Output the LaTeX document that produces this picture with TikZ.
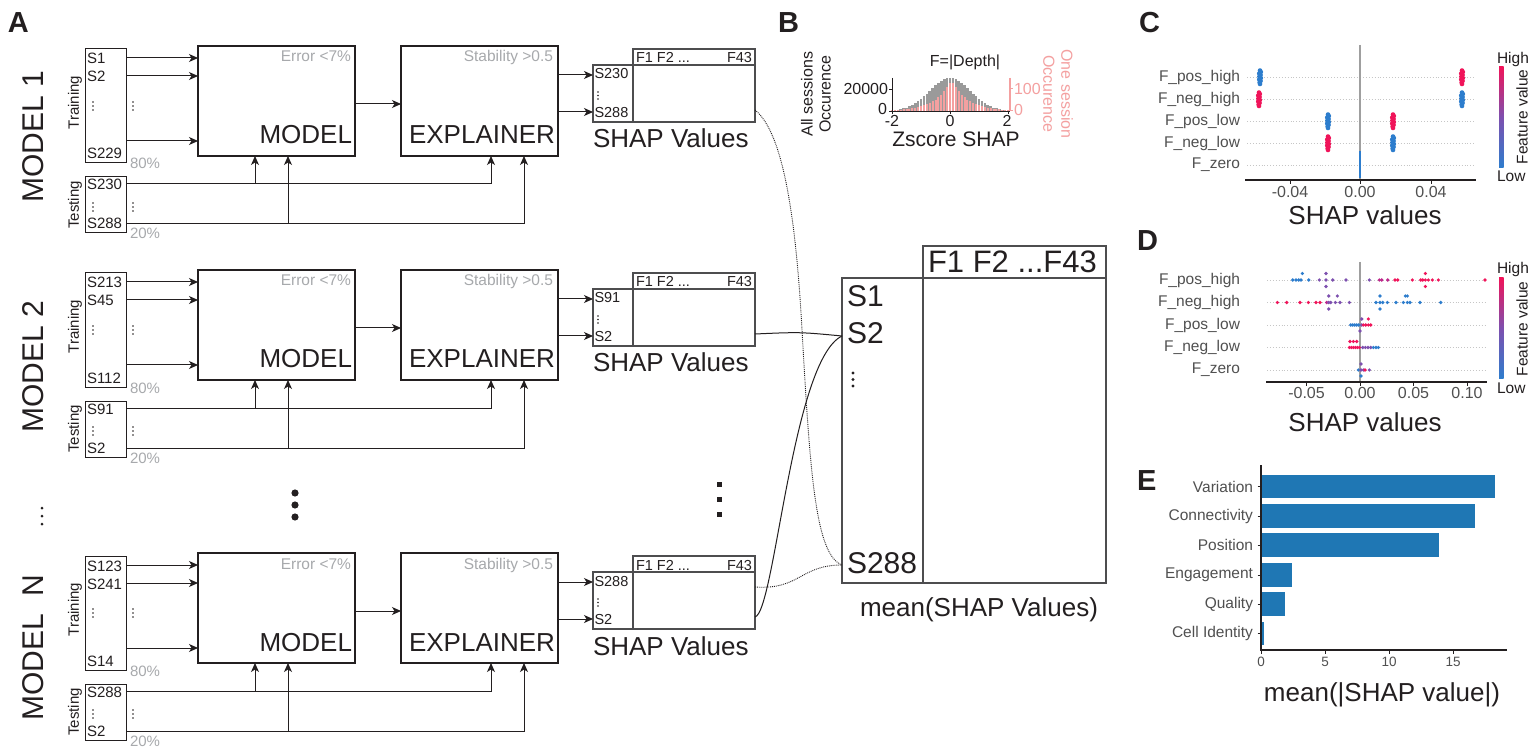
\documentclass[tikz,border=0pt]{standalone}
\usepackage{fontspec}
\setmainfont{Liberation Sans}
\usetikzlibrary{arrows.meta}
\definecolor{ink}{HTML}{231F20}
\definecolor{lgray}{HTML}{A7A9AC}
\definecolor{tgray}{HTML}{505050}
\definecolor{tblgray}{HTML}{4D4D4F}
\definecolor{db}{RGB}{45,125,205}
\definecolor{dk}{RGB}{240,20,90}
\definecolor{dp}{RGB}{125,80,175}
\definecolor{dm}{RGB}{190,40,140}
\definecolor{histgray}{HTML}{9A9A9A}
\definecolor{histpink}{HTML}{F4A0A0}
\definecolor{barblue}{HTML}{1F77B4}
\newcommand{\fsz}[1]{\fontsize{#1pt}{#1pt}\selectfont}
\newcommand{\swarmC}[3]{%
  \foreach \dy/\dx in {-6.5/0,-5/0.8,-3.5/-0.8,-2/0.6,-0.5/-0.6,1/0.8,2.5/-0.8,4/0.6,5.5/-0.4,7/0}{\fill[#3] (#1+\dx,#2+\dy) circle[radius=2.3pt];}}
\newcommand{\modelrow}[7]{%
\begin{scope}[shift={(0,#1)}]
\node[thinbox, minimum width=41pt, minimum height=114pt, anchor=north west] (#2-train) at (85,3) {};
\node[thinbox, minimum width=41pt, minimum height=56pt, anchor=north west] (#2-test) at (85,131) {};
\node[thickbox, minimum width=157pt, minimum height=110pt, anchor=north west] (#2-model) at (198,0) {};
\node[thickbox, minimum width=157pt, minimum height=110pt, anchor=north west] (#2-expl) at (401,0) {};
\node[tblbox, minimum width=40pt, minimum height=57pt, anchor=north west] (#2-rows) at (593,19) {};
\node[tblbox, minimum width=122pt, minimum height=16pt, anchor=north west] (#2-head) at (633,3) {};
\node[tblbox, minimum width=122pt, minimum height=57pt, anchor=north west] (#2-vals) at (633,19) {};
\node[txt, font=\fsz{15}, anchor=base west] (#2-t1) at (87,18) {#3};
\node[txt, font=\fsz{15}, anchor=base west] (#2-t2) at (87,36) {#4};
\node[txt, font=\fsz{15}, anchor=base west] (#2-t3) at (87,113) {#5};
\node[gtxt, font=\fsz{15}, anchor=base west] (#2-p80) at (130,123) {80\%};
\node[txt, font=\fsz{15}, rotate=90] (#2-trl) at (75,56.5) {Training};
\node[txt, font=\fsz{15}, anchor=base west] (#2-e1) at (87,144) {#6};
\node[txt, font=\fsz{15}, anchor=base west] (#2-e2) at (87,183) {#7};
\node[gtxt, font=\fsz{15}, anchor=base west] (#2-p20) at (130,193) {20\%};
\node[txt, font=\fsz{15}, rotate=90] (#2-tel) at (75,159) {Testing};
\node[gtxt, font=\fsz{15.5}, anchor=base east] (#2-err) at (351,16) {Error <7\%};
\node[txt, font=\fsz{26}, anchor=base east] (#2-mt) at (352,98) {MODEL};
\node[gtxt, font=\fsz{15.5}, anchor=base east] (#2-stab) at (553,16) {Stability >0.5};
\node[txt, font=\fsz{26}, anchor=base east] (#2-et) at (555,98) {EXPLAINER};
\node[txt, font=\fsz{14.5}, anchor=base west] (#2-s1) at (594.5,33) {#6};
\node[txt, font=\fsz{14.5}, anchor=base west] (#2-s2) at (594.5,71.5) {#7};
\node[txt, font=\fsz{14.5}, anchor=base west] (#2-h1) at (636,17) {F1 F2 ...};
\node[txt, font=\fsz{14.5}, anchor=base east] (#2-h2) at (752,17) {F43};
\node[txt, font=\fsz{26}, anchor=base west] (#2-sv) at (593,102) {SHAP Values};
\foreach \xx in {93,133} {\foreach \yy in {56,60,64,157,161,165} {\fill[ink] (\xx,\yy) circle[radius=0.9pt];}}
\foreach \yy in {46,49.5,53} {\fill[ink] (598,\yy) circle[radius=0.8pt];}
\foreach \yy in {12,30,95} {\draw[arr] (#2-train.east |- 0,\yy) -- (#2-model.west |- 0,\yy);}
\draw[arr] (#2-model.east |- 0,58) -- (#2-expl.west |- 0,58);
\coordinate (#2-j1) at (255,138);
\coordinate (#2-j2) at (288,178);
\draw[arr] (#2-test.east |- 0,138) -| (#2-expl.south -| 491,0);
\draw[arr] (#2-test.east |- 0,178) -| (#2-expl.south -| 524,0);
\draw[arr] (#2-j1) -- (#2-model.south -| #2-j1);
\draw[arr] (#2-j2) -- (#2-model.south -| #2-j2);
\draw[arr] (#2-expl.east |- 0,29) -- (#2-rows.west |- 0,29);
\draw[arr] (#2-expl.east |- 0,66) -- (#2-rows.west |- 0,66);
\coordinate (#2-o1) at (#2-vals.east |- 0,34);
\coordinate (#2-o2) at (#2-vals.east |- 0,64);
\end{scope}}
\begin{document}
\begin{tikzpicture}[x=1pt,y=-1pt,
  txt/.style={inner sep=0pt, outer sep=0pt, text=ink},
  gtxt/.style={inner sep=0pt, outer sep=0pt, text=lgray},
  ltxt/.style={inner sep=0pt, outer sep=0pt, text=tgray},
  thickbox/.style={draw=ink, line width=2.8pt, inner sep=0pt, outer sep=0pt},
  thinbox/.style={draw=ink, line width=1pt, inner sep=0pt, outer sep=0pt},
  tblbox/.style={draw=tblgray, line width=1.1pt, inner sep=0pt, outer sep=0pt},
  arr/.style={draw=ink, line width=1pt, -{Stealth[length=9pt,width=8pt,inset=2.5pt]}},
  link/.style={draw=ink, line width=1pt},
  dlink/.style={draw=ink, line width=0.9pt, densely dotted},
  rowdot/.style={draw=gray!45, line width=0.9pt, dotted},
]
\useasboundingbox[fill=white] (0,0) rectangle (1532,751);

% ---------------- panel A
\node[txt, font=\fsz{29}\bfseries, anchor=base west] (pA) at (8,33) {A};
\modelrow{46}{m1}{S1}{S2}{S229}{S230}{S288}
\modelrow{270}{m2}{S213}{S45}{S112}{S91}{S2}
\modelrow{553}{mN}{S123}{S241}{S14}{S288}{S2}
\node[txt, font=\fsz{30}, rotate=90] (lab1) at (33.5,137) {MODEL 1};
\node[txt, font=\fsz{30}, rotate=90] (lab2) at (33.5,367) {MODEL 2};
\node[txt, font=\fsz{30}, rotate=90] (labN) at (33.5,648) {MODEL\hspace{0.3em} N};
\foreach \yy in {508,516,524} {\fill[ink] (42,\yy) circle[radius=1.5pt];}
\foreach \yy in {493,505,517} {\fill[ink] (295,\yy) circle[radius=3.6pt];}
\foreach \yy in {484,499,514} {\fill[ink] (716.5,\yy-2.5) rectangle (721.5,\yy+2.5);}

% ---------------- big table
\node[tblbox, minimum width=183pt, minimum height=32pt, anchor=north west] (bhead) at (923,246) {};
\node[tblbox, minimum width=81pt, minimum height=305pt, anchor=north west] (bcol) at (842,278) {};
\node[tblbox, minimum width=183pt, minimum height=305pt, anchor=north west] (bvals) at (923,278) {};
\node[txt, font=\fsz{31}, anchor=base west] (bF) at (928,273) {F1 F2 ...F43};
\node[txt, font=\fsz{30}, anchor=base west] (bS1) at (847,306.5) {S1};
\node[txt, font=\fsz{30}, anchor=base west] (bS2) at (847,344) {S2};
\node[txt, font=\fsz{30}, anchor=base west] (bS288) at (847,573) {S288};
\foreach \yy in {373,379.5,386} {\fill[ink] (853,\yy) circle[radius=1.6pt];}
\node[txt, font=\fsz{26}, anchor=base west] (bmean) at (860,616.7) {mean(SHAP Values)};
\coordinate (in2) at (bcol.west |- 0,336);
\coordinate (in288) at (bcol.west |- 0,565);
\coordinate (mid1) at (802,330);
\draw[dlink] (m1-o2) .. controls (780,130) and (795,200) .. (mid1) .. controls (810,470) and (815,555) .. (in288);
\draw[link] (m2-o2) .. controls (800,332) .. (in2);
\draw[link] (mN-o2) .. controls (775,612) and (792,360) .. (in2);
\draw[dlink] (mN-o1) .. controls (800,590) and (800,565) .. (in288);

% ---------------- panel B histogram
\node[txt, font=\fsz{29}\bfseries, anchor=base west] (pB) at (778,33) {B};
\foreach \i in {-20,...,20} {
  \pgfmathsetmacro\xc{950+\i*2.9}
  \pgfmathsetmacro\hg{33*exp(-((\i/10)*(\i/10))/(2*0.5))}
  \pgfmathsetmacro\hp{31*exp(-abs(\i/10-0.05)/0.55)}
  \fill[histgray] (\xc-1.3,111) rectangle (\xc+1.3,111-\hg);
  \fill[histpink] (\xc-1.0,111) rectangle (\xc+1.0,111-\hp);
}
\draw[ink, line width=0.9pt] (892,78) -- (892,111) -- (1010,111);
\draw[histpink, line width=1.1pt] (1010,78) -- (1010,111);
\draw[ink, line width=0.9pt] (889,89) -- (892,89) (889,111) -- (892,111);
\draw[histpink, line width=1pt] (1010,89) -- (1013,89) (1010,111) -- (1013,111);
\foreach \xx in {892,950,1008} {\draw[ink, line width=0.9pt] (\xx,111) -- (\xx,114);}
\node[txt, font=\fsz{16}, anchor=base east] (hy1) at (888,95) {20000};
\node[txt, font=\fsz{16}, anchor=base east] (hy0) at (887,114.5) {0};
\node[txt, font=\fsz{16}, anchor=base west, text=histpink] (hp1) at (1014,95) {100};
\node[txt, font=\fsz{16}, anchor=base west, text=histpink] (hp0) at (1014,116) {0};
\node[txt, font=\fsz{16}, anchor=base] (hx1) at (892,126.5) {-2};
\node[txt, font=\fsz{16}, anchor=base] (hx2) at (950,126.5) {0};
\node[txt, font=\fsz{16}, anchor=base] (hx3) at (1007,126.5) {2};
\node[txt, font=\fsz{16}, anchor=base] (htitle) at (965,67) {F=|Depth|};
\node[txt, font=\fsz{21}, anchor=base] (hxl) at (956,147) {Zscore SHAP};
\node[txt, font=\fsz{16}, rotate=90, align=center] (hyl) at (816,94) {All sessions\\[2pt]Occurence};
\node[txt, font=\fsz{16}, rotate=-90, align=center, text=histpink] (hyr) at (1058,94) {One session\\[2pt]Occurence};

% ---------------- panel C
\node[txt, font=\fsz{29}\bfseries, anchor=base west] (pC) at (1139,33) {C};
\foreach \yy/\lab [count=\k] in {77/F\_pos\_high,99/F\_neg\_high,121/F\_pos\_low,143/F\_neg\_low,165/F\_zero} {
  \draw[rowdot] (1247,\yy) -- (1475,\yy);
  \node[ltxt, font=\fsz{15.5}, anchor=east] (cl\k) at (1240,\yy) {\lab};
}
\draw[gray!75, line width=1.8pt] (1360,45) -- (1360,180);
\swarmC{1260}{77}{db}\swarmC{1462}{77}{dk}
\swarmC{1259}{99}{dk}\swarmC{1462}{99}{db}
\swarmC{1328}{121}{db}\swarmC{1393}{121}{dk}
\swarmC{1328}{143}{dk}\swarmC{1393}{143}{db}
\draw[db, line width=2.6pt] (1360,151) -- (1360,178);
\draw[ink, line width=1.4pt] (1245,180) -- (1476,180);
\foreach \xx/\lab [count=\k] in {1290/-0.04,1360/0.00,1431/0.04} {
  \draw[ink, line width=1pt] (\xx,180) -- (\xx,184);
  \node[txt, font=\fsz{16}, anchor=base, text=tgray] (ct\k) at (\xx,198) {\lab};
}
\node[txt, font=\fsz{26}, anchor=base] (cxl) at (1365,225) {SHAP values};
\shade[top color=dk, bottom color=db, middle color=dp] (1499,67) rectangle (1503.5,168);
\node[txt, font=\fsz{15.5}, anchor=base west] (chi) at (1497,64) {High};
\node[txt, font=\fsz{15.5}, anchor=base west] (clo) at (1497,182) {Low};
\node[txt, font=\fsz{15.5}, rotate=90] (cfv) at (1522,117) {Feature value};

% ---------------- panel D
\node[txt, font=\fsz{29}\bfseries, anchor=base west] (pD) at (1137,251) {D};
\foreach \yy/\lab [count=\k] in {280/F\_pos\_high,302.5/F\_neg\_high,325/F\_pos\_low,347.5/F\_neg\_low,370/F\_zero} {
  \draw[rowdot] (1267,\yy) -- (1485,\yy);
  \node[ltxt, font=\fsz{15.5}, anchor=east] (dl\k) at (1240,\yy) {\lab};
}
\draw[gray!75, line width=1.8pt] (1360,262) -- (1360,382);
\foreach \xx/\dy/\cc in {1292.7/0/db,1296/0/db,1298.7/0/db,1301/0/db,1302.3/-6.5/db,1308.7/0/db,1319.3/0/dp,1326/0/dp,1326/-6.5/dp,1326/6.5/dp,1332.7/0/dp,1346/0/dp,1369.3/0/dp,1379.3/0/dm,1381.7/0/dm,1387.7/0/dm,1395/0/dk,1397.7/0/dk,1412.3/0/dk,1420.7/0/dk,1422.7/0/dk,1425.3/0/dk,1425.3/-6.5/dk,1425.3/6.5/dk,1428.3/0/dk,1432.3/0/dk,1438.3/0/dk,1485/0/dk}
  {\fill[\cc] (\xx,280+\dy) circle[radius=1.8pt];}
\foreach \xx/\dy/\cc in {1277.3/0/dk,1286.7/0/dk,1300/0/dk,1308.3/0/dk,1316/0/dk,1320/0/dk,1326.7/0/dm,1328.7/-6.5/dp,1328.7/0/dp,1328.7/6.5/dp,1330.7/0/dp,1335.3/0/dp,1337.3/-6.5/dp,1340/0/dp,1349.3/0/dp,1376/0/db,1380/-6.5/db,1380/0/db,1380/6.5/db,1382.7/0/db,1387.3/0/db,1396/0/db,1403.3/0/db,1405.3/-6.5/db,1407.3/0/db,1407.3/-6.5/db,1410/0/db,1420/0/db,1440.7/0/db}
  {\fill[\cc] (\xx,302.5+\dy) circle[radius=1.8pt];}
\foreach \xx/\dy/\cc in {1350.7/0/db,1352.7/0/db,1354.7/0/db,1356.7/0/db,1358.7/0/db,1360/6/dp,1361.7/-6/dp,1361.7/0/dp,1363.3/0/dk,1365.7/0/dk,1368.3/0/dk,1370.7/0/dk,1368.3/-6/dk}
  {\fill[\cc] (\xx,325+\dy) circle[radius=1.8pt];}
\foreach \xx/\dy/\cc in {1349.3/0/dk,1351.3/0/dk,1353.3/0/dk,1355.3/0/dk,1357.3/0/dk,1359.3/0/dk,1350/-6/dk,1353.3/-6/dk,1356.7/-6/dk,1362.7/0/dp,1365.3/0/dp,1368/0/dp,1370.7/0/dp,1373.3/0/db,1376/0/db,1378.3/0/db}
  {\fill[\cc] (\xx,347.5+\dy) circle[radius=1.8pt];}
\foreach \xx/\dy/\cc in {1358.3/0/db,1361/0/dp,1363.3/0/dp,1365/0/dk,1369.3/0/dp,1361/-6/dp,1361/6/db}
  {\fill[\cc] (\xx,370+\dy) circle[radius=1.8pt];}
\draw[ink, line width=1.4pt] (1266,382) -- (1487,382);
\foreach \xx/\lab [count=\k] in {1306.5/-0.05,1360/0.00,1413.5/0.05,1467/0.10} {
  \draw[ink, line width=1pt] (\xx,382) -- (\xx,386);
  \node[txt, font=\fsz{16}, anchor=base, text=tgray] (dt\k) at (\xx,399) {\lab};
}
\node[txt, font=\fsz{26}, anchor=base] (dxl) at (1365,431.7) {SHAP values};
\shade[top color=dk, bottom color=db, middle color=dp] (1499,278) rectangle (1503.5,379);
\node[txt, font=\fsz{15.5}, anchor=base west] (dhi) at (1497,274) {High};
\node[txt, font=\fsz{15.5}, anchor=base west] (dlo) at (1497,393) {Low};
\node[txt, font=\fsz{15.5}, rotate=90] (dfv) at (1522,329) {Feature value};

% ---------------- panel E
\node[txt, font=\fsz{29}\bfseries, anchor=base west] (pE) at (1137,490) {E};
\foreach \yc/\vv/\lab [count=\k] in {486.5/1495/Variation,516/1475/Connectivity,545/1439/Position,575/1292/Engagement,604/1285/Quality,633.5/1264/Cell Identity} {
  \fill[barblue] (1262,\yc-11.8) rectangle (\vv,\yc+11.8);
  \draw[ink, line width=1pt] (1257.5,\yc) -- (1261,\yc);
  \node[ltxt, font=\fsz{15.5}, anchor=east] (el\k) at (1253,\yc) {\lab};
}
\draw[ink, line width=1.4pt] (1261,465) -- (1261,650) -- (1507,650);
\foreach \xx/\lab [count=\k] in {1261/0,1325/5,1389/10,1453/15} {
  \draw[ink, line width=1pt] (\xx,650) -- (\xx,654);
  \node[txt, font=\fsz{13.5}, anchor=base, text=tgray] (et\k) at (\xx,666) {\lab};
}
\node[txt, font=\fsz{26}, anchor=base] (exl) at (1382,701.7) {mean(|SHAP value|)};
\end{tikzpicture}
\end{document}
